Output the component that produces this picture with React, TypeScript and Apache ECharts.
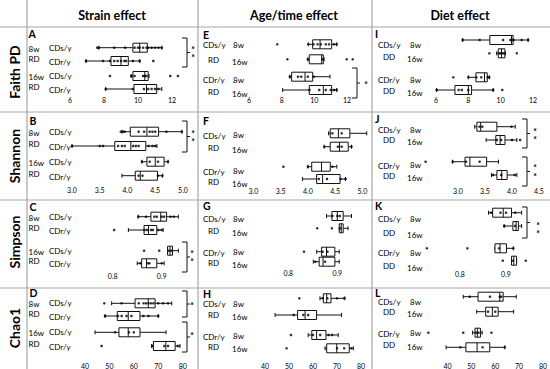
import React, { useEffect, useRef } from 'react';
import * as echarts from 'echarts';

// ---------------- data ----------------
const columnTitles = ['Strain effect', 'Age/time effect', 'Diet effect'];
const metricNames = ['Faith PD', 'Shannon', 'Simpson', 'Chao1'];
const panelLetters = ['A', 'B', 'C', 'D', 'E', 'F', 'G', 'H', 'I', 'J', 'K', 'L'];
const strainGroups = ['CDs/y', 'CDr/y'];
const timeGroups = ['8w', '16w'];
const dietByColumn = ['RD', 'RD', 'DD'];

// tick labels
const faithTicks = [6, 8, 10, 12];
const shannonTicks = [3.0, 3.5, 4.0, 4.5, 5.0];
const shannonDietTicks = [3.0, 3.5, 4.0, 4.5];
const simpsonTicks = [0.8, 0.9];
const chaoTicks = [40, 50, 60, 70, 80];

// boxes: [min, Q1, median, Q3, max] for the 4 rows of each panel
const boxA = [[7.7, 9.7, 10.1, 10.55, 11.4], [6.94, 8.41, 9.0, 9.43, 10.1], [9.6, 9.7, 10.4, 10.6, 10.65], [8.1, 9.76, 10.5, 11.1, 11.4]];
const boxB = [[3.9, 4.05, 4.35, 4.56, 4.98], [3.0, 3.77, 4.06, 4.33, 4.53], [4.26, 4.35, 4.5, 4.66, 4.73], [3.9, 4.14, 4.23, 4.54, 4.63]];
const boxC = [[0.852, 0.878, 0.898, 0.91, 0.934], [0.832, 0.864, 0.873, 0.89, 0.903], [0.912, 0.912, 0.917, 0.922, 0.934], [0.85, 0.859, 0.869, 0.89, 0.905]];
const boxD = [[50.9, 60.5, 65.9, 68.7, 75.5], [48.2, 53.2, 57.7, 62.5, 70], [44.1, 53.9, 57.7, 62.5, 73.2], [67.3, 68, 73.1, 76.9, 78.9]];
const boxE = [[9.63, 9.9, 10.35, 11.06, 11.37], [9.6, 9.69, 10.45, 10.55, 10.6], [8.5, 8.61, 9.43, 9.9, 10.96], [8.06, 9.69, 10.55, 11.06, 11.37]];
const boxF = [[4.38, 4.41, 4.56, 4.77, 5.08], [4.3, 4.41, 4.58, 4.74, 4.8], [4.0, 4.07, 4.25, 4.41, 4.53], [3.9, 4.16, 4.27, 4.59, 4.69]];
const boxG = [[0.878, 0.889, 0.9, 0.912, 0.929], [0.904, 0.904, 0.908, 0.912, 0.922], [0.858, 0.868, 0.878, 0.895, 0.904], [0.851, 0.863, 0.871, 0.895, 0.904]];
const boxH = [[62.9, 64.3, 65.7, 67.5, 73.3], [44.2, 53.6, 56.7, 61.5, 71.9], [58, 59.5, 61.5, 65.4, 70.5], [65, 65.7, 69.9, 75.1, 76.8]];
const boxI = [[7.65, 9.33, 10.67, 10.77, 11.7], [9.75, 9.85, 10.05, 10.26, 10.3], [8.0, 8.47, 9.0, 9.17, 9.3], [6.04, 7.17, 8.0, 8.2, 9.54]];
const boxJ = [[3.31, 3.35, 3.42, 3.72, 4.06], [3.52, 3.7, 3.78, 3.87, 4.09], [2.9, 3.13, 3.22, 3.53, 3.75], [3.62, 3.72, 3.81, 3.91, 4.09]];
const boxK = [[0.862, 0.871, 0.894, 0.912, 0.934], [0.896, 0.915, 0.922, 0.927, 0.934], [0.876, 0.876, 0.887, 0.901, 0.916], [0.912, 0.912, 0.917, 0.923, 0.923]];
const boxL = [[46.6, 52.8, 61.9, 63.3, 68.8], [52.2, 56, 58.8, 61.2, 67.7], [50.5, 51.5, 52.5, 53.8, 54.5], [39.4, 47.7, 52.4, 57.7, 64]];

// individual samples for the 4 rows of each panel
const ptsA = [[7.6, 7.7, 8.6, 9.25, 9.8, 10.0, 10.1, 10.3, 10.5, 10.6, 10.8, 11.0, 11.2, 11.4], [6.94, 7.94, 8.35, 8.6, 8.8, 9.0, 9.2, 9.3, 9.7, 10.1, 10.9], [8.35, 9.6, 9.8, 10.3, 10.4, 10.5, 11.9, 12.35], [8.1, 9.7, 10.35, 10.6, 10.8, 11.0, 11.2]];
const ptsB = [[3.88, 3.92, 3.95, 4.2, 4.3, 4.4, 4.45, 4.5, 4.7, 4.98], [3.0, 3.5, 3.56, 3.83, 3.9, 3.95, 4.1, 4.15, 4.2, 4.38, 4.45, 4.5], [4.26, 4.4, 4.55, 4.73], [4.2, 4.27, 4.55, 4.63]];
const ptsC = [[0.852, 0.868, 0.885, 0.89, 0.9, 0.905, 0.918, 0.925], [0.803, 0.865, 0.87, 0.878, 0.882, 0.893, 0.9], [0.864, 0.895, 0.915, 0.92], [0.856, 0.872, 0.875, 0.9]];
const ptsD = [[47.9, 55, 62, 64, 65, 66, 67, 68, 70, 72, 74], [48.2, 53.5, 55, 57, 59, 63.9, 66, 70], [52.3, 58, 60], [46.8, 67.5, 72.5, 74, 78]];
const ptsE = [[7.73, 9.63, 9.95, 10.2, 10.4, 10.7, 10.9, 11.2, 11.37], [8.35, 9.6, 10.5, 11.98, 12.35], [8.5, 9.0, 9.2, 9.6, 9.97], [9.7, 10.3, 10.7, 11.0, 11.2, 11.37]];
const ptsF = [[4.45, 4.62], [4.3, 4.55, 4.62, 4.8], [3.55, 4.0, 4.45], [4.2, 4.35, 4.6, 4.69]];
const ptsG = [[0.89, 0.9, 0.905], [0.859, 0.889, 0.906], [0.832, 0.87, 0.88], [0.855, 0.875]];
const ptsH = [[54.3, 64, 66, 70, 73], [52, 56, 58], [50.8, 60, 63, 66.5, 68], [49, 70, 73, 76]];
const ptsI = [[7.65, 8.7, 10.15, 10.6, 10.75, 10.8, 11.3, 11.7], [9.3, 9.9, 10.0, 10.1, 10.2, 11.0], [7.07, 8.0, 8.5, 8.8, 9.2, 9.3], [6.04, 7.4, 7.6, 8.0, 9.54, 10.1]];
const ptsJ = [[3.4, 3.45, 3.99], [3.72, 3.8, 4.0, 4.15], [2.4, 2.9, 3.15, 3.4], [3.65, 3.8, 4.05]];
const ptsK = [[0.868, 0.888, 0.9, 0.92], [0.896, 0.92], [0.728, 0.816, 0.885, 0.916], [0.893, 0.915, 0.943]];
const ptsL = [[49.3, 57.8, 61.9, 62.5], [57, 60], [32, 46.6, 52, 53, 58.4], [45.4, 54.7, 64]];

const panelBoxes = [boxA, boxB, boxC, boxD, boxE, boxF, boxG, boxH, boxI, boxJ, boxK, boxL];
const panelPoints = [ptsA, ptsB, ptsC, ptsD, ptsE, ptsF, ptsG, ptsH, ptsI, ptsJ, ptsK, ptsL];
const panelTicks = [faithTicks, shannonTicks, simpsonTicks, chaoTicks, faithTicks, shannonTicks, simpsonTicks, chaoTicks, faithTicks, shannonDietTicks, simpsonTicks, chaoTicks];
const panelDecimals = [0, 1, 1, 0, 0, 1, 1, 0, 0, 1, 1, 0];

// significance marks of the brackets
const bracketStars = ['*\n*', '*\n*', '*\n*', '*', '*', '*', '*\n*', '*\n*', '*\n*'];

// ---------------- layout (pixels) ----------------
const FONT = 'Lato, "Open Sans", sans-serif';
// p0/p1: pixel x of first/last tick; rows: pixel y of 4 box rows; ly: tick label y;
// ts/bs: vertical shift of the row labels (top / bottom line of each pair, per pair)
const layout = [
  { p0: 70, p1: 172, rows: [47.7, 61, 76, 89], ly: 100, ts: [0, 0], bs: [0, 0] },
  { p0: 72, p1: 183, rows: [131.7, 146, 161.7, 175.7], ly: 190, ts: [0, 0], bs: [0, 0] },
  { p0: 112.7, p1: 161.7, rows: [216.7, 230, 250.7, 263.3], ly: 276, ts: [0, 0], bs: [0, 0] },
  { p0: 85, p1: 182.7, rows: [303.3, 316, 332.3, 346], ly: 366, ts: [0, 0], bs: [0, 0] },
  { p0: 249, p1: 347, rows: [44.3, 59.3, 76.7, 90], ly: 100, ts: [0.7, 3.3], bs: [0.7, 2] },
  { p0: 253.4, p1: 362.4, rows: [133.3, 146.7, 166.7, 179], ly: 191, ts: [2.4, 5], bs: [1.3, 2.7] },
  { p0: 288.3, p1: 337.3, rows: [216, 228.3, 251.7, 261.7], ly: 273.3, ts: [3.3, 1], bs: [2.4, 1] },
  { p0: 265, p1: 361, rows: [298.3, 315, 335, 348.3], ly: 366, ts: [6, 1.7], bs: [0, -1.6] },
  { p0: 436, p1: 533, rows: [40, 53.3, 77.3, 90], ly: 100, ts: [5, 2.7], bs: [3.7, 1] },
  { p0: 458, p1: 539, rows: [126.7, 140, 161.7, 175], ly: 191, ts: [3.3, 4], bs: [0, 1.2] },
  { p0: 460, p1: 506, rows: [212.7, 226, 248.3, 260.7], ly: 274, ts: [6.5, 5], bs: [6.7, 5.3] },
  { p0: 447.5, p1: 543, rows: [296.7, 311.7, 332.7, 347.3], ly: 366, ts: [5.5, 1], bs: [0, -2.3] },
];
const letterPos = [[28.5, 34], [29.5, 121], [29.5, 206.5], [29.5, 293], [203, 34.5], [203, 120.5], [203, 206], [203, 293.5], [375, 34], [375, 119], [375, 206], [375, 292.5]];
const bracketGeom = [
  { x: 182, y0: 38, y1: 67, sx: 193, sy: 52 },
  { x: 182, y0: 121, y1: 152, sx: 193, sy: 136 },
  { x: 182, y0: 242, y1: 272, sx: 192, sy: 256 },
  { x: 182, y0: 291, y1: 317, sx: 192, sy: 303.5 },
  { x: 182, y0: 322, y1: 352, sx: 192, sy: 333.5 },
  { x: 352, y0: 68, y1: 98, sx: 366, sy: 82.5 },
  { x: 522, y0: 119, y1: 148, sx: 535, sy: 134 },
  { x: 522, y0: 157, y1: 186, sx: 535, sy: 170.5 },
  { x: 522, y0: 207, y1: 238, sx: 538, sy: 228 },
];

const renderBox = (params: any, api: any) => {
  const y = api.value(0);
  const lo = api.coord([api.value(1), y]);
  const q1 = api.coord([api.value(2), y]);
  const md = api.coord([api.value(3), y]);
  const q3 = api.coord([api.value(4), y]);
  const hi = api.coord([api.value(5), y]);
  const cy = lo[1];
  const h = 9;
  const cap = 2;
  const st = { stroke: '#111', lineWidth: 1 };
  const ln = (x1: number, y1: number, x2: number, y2: number) => ({ type: 'line', shape: { x1, y1, x2, y2 }, style: st });
  return {
    type: 'group',
    children: [
      ln(lo[0], cy, q1[0], cy),
      ln(q3[0], cy, hi[0], cy),
      ln(lo[0], cy - cap, lo[0], cy + cap),
      ln(hi[0], cy - cap, hi[0], cy + cap),
      { type: 'rect', shape: { x: q1[0], y: cy - h / 2, width: Math.max(q3[0] - q1[0], 1), height: h }, style: { fill: '#fff', stroke: '#111', lineWidth: 1 } },
      ln(md[0], cy - h / 2, md[0], cy + h / 2),
    ],
  };
};

const txt = (text: string, x: number, y: number, o: any = {}) => ({
  type: 'text',
  x,
  y,
  rotation: o.rot ?? 0,
  silent: true,
  z: 10,
  style: {
    text,
    fontFamily: FONT,
    fontSize: o.size ?? 8,
    fontWeight: o.weight ?? 'normal',
    fill: o.color ?? '#000',
    align: o.align ?? 'left',
    textAlign: o.align ?? 'left',
    verticalAlign: 'middle',
    textVerticalAlign: 'middle',
    lineHeight: o.lh,
  },
});

function buildOption() {
  const grid: any[] = [];
  const xAxis: any[] = [];
  const yAxis: any[] = [];
  const series: any[] = [];
  const graphic: any[] = [];

  panelBoxes.forEach((box, i) => {
    const L = layout[i];
    const ticks = panelTicks[i];
    const dec = panelDecimals[i];
    const step = Math.round((ticks[1] - ticks[0]) * 1000) / 1000;
    grid.push({ left: L.p0, top: L.rows[0], width: L.p1 - L.p0, height: L.rows[3] - L.rows[0], containLabel: false, outerBoundsMode: 'none' });
    xAxis.push({
      type: 'value', gridIndex: i, min: ticks[0], max: ticks[ticks.length - 1], interval: step,
      axisLine: { show: false }, axisTick: { show: false }, splitLine: { show: false },
      axisLabel: { show: true, showMinLabel: true, showMaxLabel: true, fontSize: 7, fontFamily: FONT, color: '#000', margin: L.ly - L.rows[3] - 4, formatter: (v: number) => v.toFixed(dec) },
    });
    yAxis.push({ type: 'value', gridIndex: i, min: L.rows[0], max: L.rows[3], inverse: true, show: false });
    series.push({
      type: 'custom', xAxisIndex: i, yAxisIndex: i, renderItem: renderBox, clip: false, z: 2, silent: true,
      encode: { x: [1, 2, 3, 4, 5], y: 0 },
      data: box.map((b, r) => [L.rows[r], ...b]),
    });
    series.push({
      type: 'scatter', xAxisIndex: i, yAxisIndex: i, clip: false, z: 3, silent: true, symbolSize: 2.6,
      itemStyle: { color: '#000' },
      data: panelPoints[i].flatMap((arr, r) => arr.map((v) => [v, L.rows[r]])),
    });

    // labels
    const col = Math.floor(i / 4);
    const rows = L.rows;
    graphic.push(txt(panelLetters[i], letterPos[i][0], letterPos[i][1], { size: 10.5, weight: 'bold' }));
    for (let p = 0; p < 2; p++) {
      const rT = rows[2 * p];
      const rB = rows[2 * p + 1];
      if (col === 0) {
        graphic.push(txt(timeGroups[p], 28.5, rT + 1));
        graphic.push(txt(dietByColumn[0], 28.5, rB - 2));
        graphic.push(txt(strainGroups[0], 49, rT));
        graphic.push(txt(strainGroups[1], 49, rB + 1));
      } else {
        const gx = col === 1 ? 203 : 378;
        const t8 = col === 1 ? 233 : 410;
        const t16 = col === 1 ? 232 : 407;
        graphic.push(txt(strainGroups[p], gx, rT + L.ts[p]));
        graphic.push(txt(dietByColumn[col], gx + 5, rB + L.bs[p]));
        graphic.push(txt(timeGroups[0], t8, rT + L.ts[p] - 0.5));
        graphic.push(txt(timeGroups[1], t16, rB + L.bs[p] + 2));
      }
    }
  });

  // separators
  const sep = { stroke: '#a6a6a6', lineWidth: 1.2 };
  [27, 198, 372].forEach((x) => graphic.push({ type: 'line', silent: true, shape: { x1: x, y1: 0, x2: x, y2: 369 }, style: sep }));
  [27, 112, 200, 288].forEach((y) => graphic.push({ type: 'line', silent: true, shape: { x1: 0, y1: y, x2: 550, y2: y }, style: sep }));

  // titles
  const titleX = [112, 294, 460];
  columnTitles.forEach((t, c) => graphic.push(txt(t, titleX[c], 15, { size: 12.5, weight: 'bold', align: 'center' })));
  const metricY = [72, 156, 242, 328];
  metricNames.forEach((t, r) => graphic.push(txt(t, 14, metricY[r], { size: 14, weight: 'bold', align: 'center', rot: Math.PI / 2 })));

  // brackets
  bracketGeom.forEach((b, k) => {
    const xr = b.x + 5;
    const mid = (b.y0 + b.y1) / 2;
    graphic.push({ type: 'polyline', silent: true, shape: { points: [[b.x, b.y0], [xr, b.y0], [xr, b.y1], [b.x, b.y1]] }, style: { stroke: '#111', lineWidth: 1, fill: 'none' } });
    graphic.push({ type: 'line', silent: true, shape: { x1: xr, y1: mid, x2: xr + 3, y2: mid }, style: { stroke: '#111', lineWidth: 1 } });
    graphic.push(txt(bracketStars[k], b.sx, b.sy + 2, { size: 8.5, align: 'center', lh: 8.5, weight: 'bold' }));
  });

  return { animation: false, backgroundColor: '#fff', grid, xAxis, yAxis, series, graphic };
}

export default function App() {
  const ref = useRef<HTMLDivElement>(null);
  useEffect(() => {
    if (!ref.current) return;
    const chart = echarts.init(ref.current, null, { renderer: 'svg' });
    chart.setOption(buildOption() as any);
    return () => chart.dispose();
  }, []);
  return <div ref={ref} style={{ position: 'absolute', left: 0, top: 0, width: 550, height: 369 }} />;
}
